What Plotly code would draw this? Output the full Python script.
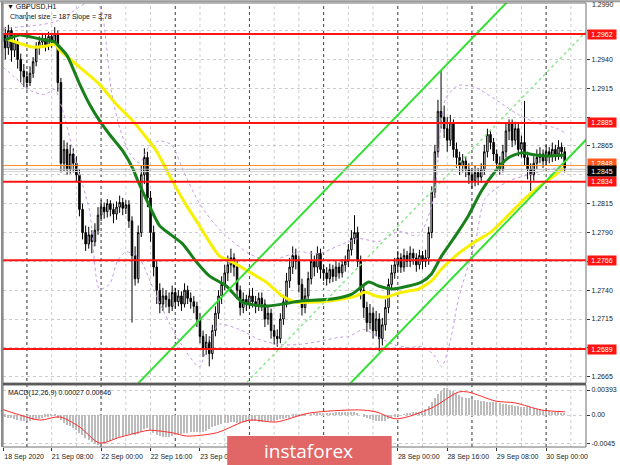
import plotly.graph_objects as go

# ---------------- data ----------------
# hourly bars, index 0 = 18 Sep 16:00, one bar per hour (weekend skipped)
first_open = 1.2955
closes = [
    1.2962, 1.2950, 1.2965, 1.2948, 1.2955, 1.2940, 1.2930, 1.2925, 1.2920, 1.2928,
    1.2938, 1.2950, 1.2955, 1.2958, 1.2952, 1.2960, 1.2956, 1.2962, 1.2920, 1.2850,
    1.2862, 1.2845, 1.2858, 1.2850, 1.2840, 1.2810, 1.2790, 1.2780, 1.2788, 1.2782,
    1.2792, 1.2805, 1.2812, 1.2808, 1.2815, 1.2810, 1.2806, 1.2812, 1.2816, 1.2811,
    1.2814, 1.2800, 1.2770, 1.2750, 1.2790, 1.2840, 1.2855, 1.2820, 1.2790, 1.2760,
    1.2740, 1.2728, 1.2735, 1.2732, 1.2726, 1.2738, 1.2730, 1.2735, 1.2728, 1.2740,
    1.2733, 1.2730, 1.2726, 1.2715, 1.2700, 1.2690, 1.2695, 1.2685, 1.2705, 1.2720,
    1.2735, 1.2745, 1.2755, 1.2762, 1.2768, 1.2760, 1.2740, 1.2725, 1.2732, 1.2728,
    1.2735, 1.2730, 1.2726, 1.2733, 1.2728, 1.2715, 1.2720, 1.2705, 1.2700, 1.2698,
    1.2715, 1.2730, 1.2748, 1.2760, 1.2770, 1.2765, 1.2745, 1.2725, 1.2735, 1.2750,
    1.2765, 1.2760, 1.2772, 1.2758, 1.2755, 1.2750, 1.2758, 1.2752, 1.2760, 1.2755,
    1.2762, 1.2765, 1.2775, 1.2785, 1.2790, 1.2765, 1.2740, 1.2725, 1.2712, 1.2720,
    1.2705, 1.2715, 1.2698, 1.2710, 1.2725, 1.2745, 1.2755, 1.2762, 1.2768, 1.2760,
    1.2770, 1.2765, 1.2772, 1.2768, 1.2762, 1.2770, 1.2765, 1.2768, 1.2790, 1.2825,
    1.2860, 1.2895, 1.2890, 1.2880, 1.2870, 1.2885, 1.2862, 1.2855, 1.2848, 1.2852,
    1.2845, 1.2840, 1.2835, 1.2842, 1.2838, 1.2845, 1.2860, 1.2875, 1.2868, 1.2858,
    1.2850, 1.2845, 1.2860, 1.2878, 1.2885, 1.2870, 1.2880, 1.2862, 1.2868, 1.2855,
    1.2845, 1.2840, 1.2850, 1.2855, 1.2858, 1.2852, 1.2860, 1.2856, 1.2862, 1.2858,
    1.2864, 1.2860, 1.2846]
highs = [
    1.2974, 1.2968, 1.2970, 1.2968, 1.2960, 1.2958, 1.2945, 1.2936, 1.2930, 1.2934,
    1.2942, 1.2955, 1.2960, 1.2963, 1.2962, 1.2964, 1.2963, 1.2968, 1.2965, 1.2924,
    1.2870, 1.2868, 1.2866, 1.2863, 1.2856, 1.2845, 1.2815, 1.2796, 1.2795, 1.2792,
    1.2798, 1.2812, 1.2818, 1.2816, 1.2819, 1.2818, 1.2815, 1.2817, 1.2822, 1.2820,
    1.2818, 1.2818, 1.2804, 1.2778, 1.2796, 1.2848, 1.2863, 1.2860, 1.2826, 1.2796,
    1.2766, 1.2746, 1.2742, 1.2740, 1.2738, 1.2744, 1.2742, 1.2740, 1.2739, 1.2746,
    1.2744, 1.2738, 1.2735, 1.2730, 1.2720, 1.2705, 1.2702, 1.2700, 1.2710, 1.2726,
    1.2740, 1.2752, 1.2762, 1.2770, 1.2776, 1.2772, 1.2765, 1.2744, 1.2738, 1.2736,
    1.2740, 1.2742, 1.2735, 1.2738, 1.2738, 1.2732, 1.2726, 1.2724, 1.2710, 1.2706,
    1.2720, 1.2736, 1.2755, 1.2768, 1.2778, 1.2776, 1.2770, 1.2750, 1.2742, 1.2756,
    1.2774, 1.2770, 1.2778, 1.2776, 1.2762, 1.2760, 1.2763, 1.2762, 1.2765, 1.2764,
    1.2767, 1.2770, 1.2780, 1.2792, 1.2805, 1.2795, 1.2770, 1.2745, 1.2730, 1.2728,
    1.2725, 1.2722, 1.2720, 1.2716, 1.2732, 1.2750, 1.2762, 1.2768, 1.2774, 1.2772,
    1.2776, 1.2774, 1.2778, 1.2776, 1.2772, 1.2775, 1.2774, 1.2775, 1.2795, 1.2830,
    1.2866, 1.2905, 1.2931, 1.2900, 1.2890, 1.2892, 1.2888, 1.2868, 1.2860, 1.2858,
    1.2856, 1.2850, 1.2846, 1.2848, 1.2846, 1.2850, 1.2866, 1.2880, 1.2879, 1.2872,
    1.2862, 1.2856, 1.2866, 1.2884, 1.2888, 1.2888, 1.2886, 1.2884, 1.2874, 1.2904,
    1.2860, 1.2850, 1.2856, 1.2862, 1.2864, 1.2862, 1.2866, 1.2864, 1.2868, 1.2866,
    1.2870, 1.2868, 1.2864]
lows = [
    1.2945, 1.2940, 1.2944, 1.2938, 1.2942, 1.2932, 1.2920, 1.2916, 1.2914, 1.2917,
    1.2924, 1.2934, 1.2944, 1.2950, 1.2947, 1.2948, 1.2950, 1.2952, 1.2912, 1.2842,
    1.2843, 1.2840, 1.2841, 1.2842, 1.2834, 1.2804, 1.2784, 1.2774, 1.2776, 1.2772,
    1.2778, 1.2788, 1.2800, 1.2802, 1.2803, 1.2804, 1.2798, 1.2801, 1.2807, 1.2805,
    1.2806, 1.2794, 1.2712, 1.2744, 1.2746, 1.2786, 1.2832, 1.2812, 1.2782, 1.2752,
    1.2728, 1.2720, 1.2722, 1.2725, 1.2720, 1.2722, 1.2724, 1.2726, 1.2722, 1.2725,
    1.2728, 1.2724, 1.2720, 1.2708, 1.2694, 1.2682, 1.2684, 1.2674, 1.2680, 1.2700,
    1.2715, 1.2728, 1.2740, 1.2748, 1.2755, 1.2752, 1.2732, 1.2718, 1.2720, 1.2722,
    1.2724, 1.2725, 1.2720, 1.2722, 1.2722, 1.2708, 1.2710, 1.2698, 1.2693, 1.2691,
    1.2694, 1.2710, 1.2725, 1.2742, 1.2754, 1.2758, 1.2738, 1.2718, 1.2720, 1.2730,
    1.2745, 1.2752, 1.2755, 1.2750, 1.2748, 1.2744, 1.2746, 1.2747, 1.2748, 1.2750,
    1.2751, 1.2756, 1.2760, 1.2770, 1.2780, 1.2760, 1.2732, 1.2716, 1.2704, 1.2706,
    1.2698, 1.2700, 1.2687, 1.2692, 1.2705, 1.2720, 1.2740, 1.2750, 1.2756, 1.2755,
    1.2756, 1.2760, 1.2760, 1.2762, 1.2756, 1.2758, 1.2758, 1.2760, 1.2762, 1.2785,
    1.2820, 1.2855, 1.2880, 1.2872, 1.2860, 1.2865, 1.2855, 1.2846, 1.2840, 1.2842,
    1.2838, 1.2832, 1.2828, 1.2830, 1.2831, 1.2833, 1.2840, 1.2855, 1.2862, 1.2852,
    1.2844, 1.2840, 1.2842, 1.2855, 1.2870, 1.2864, 1.2866, 1.2856, 1.2855, 1.2848,
    1.2836, 1.2826, 1.2835, 1.2845, 1.2850, 1.2846, 1.2848, 1.2850, 1.2851, 1.2852,
    1.2853, 1.2854, 1.2842]

# moving averages (bar index, price)
ma_green_bar = [0.9, 5.7, 12.2, 17.0, 18.0, 20.9, 25.1, 28.3, 31.5, 34.8, 39.0, 42.2, 43.8, 47.7,
                50.9, 54.1, 58.3, 62.8, 67.0, 72.5, 77.7, 85.4, 90.6, 96.0, 106.7, 113.1, 118.6,
                121.8, 126.0, 131.5, 135.7, 138.9, 142.2, 146.7, 150.9, 155.0, 159.6, 163.7,
                167.9, 172.5, 176.6, 182.0]
ma_green_val = [1.29568, 1.29612, 1.29577, 1.29551, 1.29524, 1.29437, 1.29184, 1.29009, 1.28869,
                1.28747, 1.28607, 1.28458, 1.28354, 1.28126, 1.27960, 1.27890, 1.27803, 1.27646,
                1.27524, 1.27436, 1.27296, 1.27262, 1.27279, 1.27305, 1.27323, 1.27366, 1.27471,
                1.27436, 1.27410, 1.27436, 1.27471, 1.27541, 1.27698, 1.27873, 1.28048, 1.28257,
                1.28432, 1.28546, 1.28590, 1.28572, 1.28563, 1.28572]
ma_yellow_bar = [1.5, 9.9, 14.4, 17.0, 18.6, 25.1, 31.5, 37.0, 42.2, 46.7, 49.9, 55.1, 59.6, 63.8,
                 67.0, 70.2, 74.4, 79.9, 85.4, 90.6, 95.1, 99.3, 104.7, 109.9, 114.4, 117.6, 120.9,
                 124.1, 128.3, 131.5, 134.7, 138.9, 142.2, 146.7, 153.1, 158.3, 163.7, 169.2,
                 174.4, 178.9, 181.5]
ma_yellow_val = [1.29577, 1.29507, 1.29516, 1.29533, 1.29481, 1.29332, 1.29184, 1.29009, 1.28869,
                 1.28721, 1.28607, 1.28345, 1.28135, 1.27960, 1.27821, 1.27698, 1.27646, 1.27559,
                 1.27471, 1.27349, 1.27296, 1.27296, 1.27305, 1.27323, 1.27349, 1.27384, 1.27349,
                 1.27340, 1.27375, 1.27393, 1.27410, 1.27480, 1.27585, 1.27698, 1.27821, 1.27908,
                 1.28048, 1.28196, 1.28310, 1.28397, 1.28458]

# envelope (dotted violet) bands
band_up_bar = [0.26, 5.7, 12.2, 17.0, 20.3, 25.1, 29.9, 32.2, 35.4, 38.0, 41.2, 44.4, 47.7, 50.9,
               54.8, 58.9, 63.8, 68.6, 73.5, 79.9, 86.4, 91.2, 96.0, 102.5, 108.9, 115.4, 121.8,
               128.3, 134.7, 139.6, 143.4, 147.6, 153.1, 159.6, 167.0, 174.4, 178.9, 182.1]
band_up_val = [1.29664, 1.29682, 1.29699, 1.29725, 1.29769, 1.29856, 1.29926, 1.29813, 1.29114,
               1.28808, 1.28589, 1.28502, 1.28651, 1.28694, 1.28659, 1.28415, 1.28153, 1.27978,
               1.27847, 1.27716, 1.27655, 1.27690, 1.27733, 1.27716, 1.27786, 1.27847, 1.27821,
               1.27908, 1.27873, 1.28196, 1.29053, 1.29175, 1.29157, 1.29053, 1.28921, 1.28834,
               1.28808, 1.28764]
band_lo_bar = [0.26, 4.1, 9.0, 13.8, 17.0, 19.3, 23.5, 28.3, 31.5, 34.8, 37.3, 40.2, 44.4, 49.9,
               56.4, 63.8, 67.0, 70.2, 76.7, 83.1, 89.6, 96.0, 102.5, 108.9, 112.2, 117.0, 121.8,
               126.7, 131.5, 135.7, 139.6, 142.2, 145.1, 147.6, 153.1, 156.3, 163.8, 172.5, 178.9,
               182.1]
band_lo_val = [1.29332, 1.29245, 1.29131, 1.29096, 1.29140, 1.28983, 1.28546, 1.28083, 1.27410,
               1.27454, 1.27655, 1.27733, 1.27672, 1.27349, 1.26999, 1.26737, 1.26973, 1.27104,
               1.27060, 1.26973, 1.26929, 1.26929, 1.26956, 1.26991, 1.26999, 1.27060, 1.26991,
               1.26929, 1.26903, 1.26912, 1.26842, 1.26737, 1.26973, 1.27323, 1.27821, 1.28196,
               1.28345, 1.28415, 1.28458, 1.28458]

# regression channel (two anchor bars)
channel_bar = [40, 190]
channel_upper = [1.26482, 1.30634]
channel_middle = [1.25518, 1.29670]
channel_lower = [1.24582, 1.28734]

# horizontal levels
levels = [1.2962, 1.2885, 1.2834, 1.2766, 1.2689]
ask_price = 1.2848
bid_price = 1.2845

# MACD (main line in units of 0.0001, one per bar) and signal line
macd_main_e4 = [
    -3, -3, -4,
    -5, -6, -8, -9, -10, -10, -9, -8, -7, -6,
    -4, -3, -3, -2, -2, -4,
    -8, -12, -15, -18, -21, -24, -28, -32, -36, -40, -43, -45, -47,
    -46, -45, -43, -41, -39, -37, -35, -33, -31, -30, -30, -32, -30, -26,
    -22, -21, -24,
    -28, -31, -33, -35, -35, -34, -33, -32,
    -31, -30, -29, -28, -27, -26, -26, -27, -27, -25, -22, -19, -17, -15, -14, -13, -12,
    -11, -11, -12, -12, -11, -11, -10, -10, -10, -11, -11, -10, -10, -10, -9, -8, -7, -6,
    -5, -4, -3, -3, -2, -2, -1, 0,
    1, 2, 3, 3, 3, 3, 3, 3, 4, 4, 4, 5, 5, 5, 5, 3,
    0, -3, -5, -7, -8, -9, -10, -10, -9, -7, -5, -3,
    -1, 0, 1, 2, 3, 4, 4, 5,
    7, 10, 14, 20, 27, 33, 38, 42, 42, 40,
    37, 34, 31, 29, 27, 26, 25, 24,
    23, 22, 22, 21, 21, 20, 20, 19, 18, 17, 16,
    15, 14, 14, 13, 13, 12, 12, 11, 10, 9, 8, 7,
    6, 5, 5, 4, 3, 2.7]
signal_bar = [0, 5.7, 12.2, 18.6, 25.1, 31.5, 38.0, 44.4, 47.7, 55.1, 59.6, 69.3, 79.9, 88.6,
              99.3, 115.4, 120.9, 127.6, 138.9, 147.6, 150.9, 159.6, 166.0, 174.4, 182.1]
signal_val = [0.0009, 0.0000, -0.0008, -0.0003, -0.0019, -0.0044, -0.0035, -0.0027, -0.0024,
              -0.0028, -0.0033, -0.0028, -0.0008, -0.0011, 0.0003, 0.0008, 0.0005, -0.0006,
              0.0011, 0.0036, 0.0036, 0.0022, 0.0019, 0.0008, 0.0005]

# axes
price_ticks = [1.2965, 1.2940, 1.2915, 1.2890, 1.2865, 1.2840, 1.2815, 1.2790, 1.2765,
               1.2740, 1.2715, 1.2690, 1.2665]
price_tick_text = ["", "1.2940", "1.2915", "", "1.2865", "", "1.2815", "1.2790", "",
                   "1.2740", "1.2715", "", "1.2665"]
top_price_label = "1.2990"
macd_ticks = [0.00393, 0.0, -0.0045]
macd_tick_text = ["0.00393", "0.00", "-0.0045"]
# labels 24 Sep 00:00 .. 25 Sep 08:00 sit under the watermark and are not visible
time_label_bar = [0.3, 16, 32, 48, 64, 128, 144, 160, 176]
time_label_text = ["18 Sep 2020", "21 Sep 08:00", "22 Sep 00:00", "22 Sep 16:00",
                   "23 Sep 08:00", "28 Sep 00:00", "28 Sep 16:00", "29 Sep 08:00",
                   "30 Sep 00:00"]
grid_bars = list(range(8, 189, 8))
day_bars = [8, 32, 56, 80, 104, 128, 152, 176]

# ---------------- figure ----------------
opens = [first_open] + closes[:-1]
bars = list(range(len(closes)))
macd_main = [v * 1e-4 for v in macd_main_e4]

FONT = "Liberation Sans"
fig = go.Figure()

band_style = dict(color="#c79ae6", width=1, dash="dot", shape="spline", smoothing=0.7)
fig.add_trace(go.Scatter(x=band_up_bar, y=band_up_val, mode="lines", line=band_style,
                         xaxis="x", yaxis="y", hoverinfo="skip"))
fig.add_trace(go.Scatter(x=band_lo_bar, y=band_lo_val, mode="lines", line=band_style,
                         xaxis="x", yaxis="y", hoverinfo="skip"))

fig.add_trace(go.Candlestick(
    x=bars, open=opens, high=highs, low=lows, close=closes,
    increasing=dict(line=dict(color="#000000", width=1), fillcolor="#ffffff"),
    decreasing=dict(line=dict(color="#000000", width=1), fillcolor="#000000"),
    whiskerwidth=0, xaxis="x", yaxis="y", hoverinfo="skip"))

fig.add_trace(go.Scatter(x=ma_yellow_bar, y=ma_yellow_val, mode="lines",
                         line=dict(color="#f7f000", width=3, shape="spline", smoothing=0.6),
                         xaxis="x", yaxis="y", hoverinfo="skip"))
fig.add_trace(go.Scatter(x=ma_green_bar, y=ma_green_val, mode="lines",
                         line=dict(color="#17801a", width=3, shape="spline", smoothing=0.6),
                         xaxis="x", yaxis="y", hoverinfo="skip"))

fig.add_trace(go.Scatter(x=channel_bar, y=channel_middle, mode="lines",
                         line=dict(color="#8de88d", width=1.5, dash="dot"),
                         xaxis="x", yaxis="y", hoverinfo="skip"))
for ch in (channel_upper, channel_lower):
    fig.add_trace(go.Scatter(x=channel_bar, y=ch, mode="lines",
                             line=dict(color="#33e033", width=2),
                             xaxis="x", yaxis="y", hoverinfo="skip"))

# MACD pane
fig.add_trace(go.Bar(x=bars, y=macd_main, marker=dict(color="#bcbcbc", line=dict(width=0)),
                     width=0.45, xaxis="x2", yaxis="y2", hoverinfo="skip"))
fig.add_trace(go.Scatter(x=signal_bar, y=signal_val, mode="lines",
                         line=dict(color="#ff2a2a", width=1, shape="spline", smoothing=0.8),
                         xaxis="x2", yaxis="y2", hoverinfo="skip"))

shapes = []
for b in grid_bars:
    shapes.append(dict(type="line", xref="x", yref="paper", x0=b, x1=b, y0=0, y1=1,
                       line=dict(color="#cccccc", width=1, dash="dot"), layer="below"))
for b in day_bars:
    shapes.append(dict(type="line", xref="x", yref="paper", x0=b, x1=b, y0=0, y1=1,
                       line=dict(color="#4a4a4a", width=1, dash="dot"), layer="below"))
for lv in levels:
    shapes.append(dict(type="line", xref="paper", yref="y", x0=0, x1=1, y0=lv, y1=lv,
                       line=dict(color="#ff1414", width=2)))
shapes.append(dict(type="line", xref="paper", yref="y", x0=0, x1=1, y0=ask_price, y1=ask_price,
                   line=dict(color="#ff8a2a", width=1)))
shapes.append(dict(type="line", xref="paper", yref="y", x0=0, x1=1, y0=bid_price - 0.00002,
                   y1=bid_price - 0.00002, line=dict(color="#b8b8b8", width=1)))
shapes.append(dict(type="line", xref="paper", yref="y", x0=0, x1=1, y0=bid_price - 0.00022,
                   y1=bid_price - 0.00022, line=dict(color="#d4d4d4", width=1)))

MAIN_BOTTOM = 0.144
MACD_TOP = 0.1396
# pane frames
shapes.append(dict(type="rect", xref="paper", yref="paper", x0=0, x1=1, y0=MAIN_BOTTOM, y1=1,
                   line=dict(color="#707070", width=1)))
shapes.append(dict(type="rect", xref="paper", yref="paper", x0=0, x1=1, y0=0, y1=MACD_TOP,
                   line=dict(color="#707070", width=1)))
shapes.append(dict(type="rect", xref="paper", yref="paper", x0=0, x1=1, y0=MACD_TOP,
                   y1=MAIN_BOTTOM, fillcolor="#5a5a5a", line=dict(width=0)))
shapes.append(dict(type="line", xref="paper", yref="paper", x0=-0.0017, x1=-0.0017, y0=0,
                   y1=1.005, line=dict(color="#8c8c8c", width=2)))
shapes.append(dict(type="line", xref="paper", yref="paper", x0=-0.005, x1=1.06, y0=1.004,
                   y1=1.004, line=dict(color="#9a9a9a", width=2)))
# watermark box
shapes.append(dict(type="rect", xref="paper", yref="paper", x0=0.3846, x1=0.6667,
                   y0=-0.045, y1=0.0248, fillcolor="#e16666", line=dict(width=0)))

annotations = []
annotations.append(dict(xref="paper", yref="paper", x=0.004, y=0.991, xanchor="left",
                        yanchor="middle", showarrow=False, text="▼ GBPUSD,H1",
                        font=dict(family=FONT, size=7, color="#111111")))
annotations.append(dict(xref="paper", yref="paper", x=0.0085, y=0.9685, xanchor="left",
                        yanchor="middle", showarrow=False,
                        text="Channel size = 187 Slope = 3.78",
                        font=dict(family=FONT, size=7, color="#111111")))
annotations.append(dict(xref="paper", yref="paper", x=0.005, y=0.1225, xanchor="left",
                        yanchor="middle", showarrow=False,
                        text="MACD(12,26,9) 0.00027 0.00046",
                        font=dict(family=FONT, size=7, color="#111111")))
annotations.append(dict(xref="paper", yref="paper", x=1, y=0.9955, xanchor="left",
                        yanchor="middle", xshift=4, showarrow=False, text=top_price_label,
                        font=dict(family=FONT, size=7, color="#222222")))
for lv in levels:
    annotations.append(dict(xref="paper", yref="y", x=1, y=lv, xanchor="left", yanchor="middle",
                            xshift=1, showarrow=False, text="%.4f" % lv, bgcolor="#ff1414",
                            width=28, height=9, borderpad=0,
                            font=dict(family=FONT, size=7, color="#ffffff")))
annotations.append(dict(xref="paper", yref="y", x=1, y=ask_price + 0.00015, xanchor="left",
                        yanchor="middle", xshift=1, showarrow=False, text="%.4f" % ask_price,
                        bgcolor="#ff5a1e", width=28, height=9, borderpad=0,
                        font=dict(family=FONT, size=7, color="#ffffff")))
annotations.append(dict(xref="paper", yref="y", x=1, y=bid_price, xanchor="left",
                        yanchor="middle", xshift=1, yshift=-2, showarrow=False,
                        text="%.4f" % bid_price, bgcolor="#000000", width=28, height=10,
                        borderpad=0, font=dict(family=FONT, size=7, color="#ffffff")))
annotations.append(dict(xref="paper", yref="paper", x=0.5248, y=-0.009, xanchor="center",
                        yanchor="middle", showarrow=False, text="instaforex",
                        font=dict(family="Open Sans", size=19, color="#ffffff")))

axis_font = dict(family=FONT, size=7, color="#222222")
xr = [0.26, 188.9]
fig.update_layout(
    width=620, height=465,
    margin=dict(l=3, r=32, t=3, b=18),
    paper_bgcolor="#ffffff", plot_bgcolor="#ffffff",
    showlegend=False, bargap=0,
    xaxis=dict(domain=[0, 1], range=xr, anchor="y", showticklabels=False, showgrid=False,
               zeroline=False, ticks="", rangeslider=dict(visible=False), fixedrange=True),
    yaxis=dict(domain=[MAIN_BOTTOM, 1], range=[1.26595, 1.29889], anchor="x", side="right",
               tickmode="array", tickvals=price_ticks, ticktext=price_tick_text,
               tickfont=axis_font, ticks="outside", ticklen=3, tickcolor="#333333",
               showgrid=True, gridcolor="#cccccc", griddash="dot", gridwidth=1,
               zeroline=False, fixedrange=True),
    xaxis2=dict(domain=[0, 1], range=xr, anchor="y2", tickmode="array",
                tickvals=time_label_bar, ticktext=time_label_text, tickfont=axis_font,
                ticks="outside", ticklen=3, tickcolor="#333333", ticklabelshift=21,
                showgrid=False, zeroline=False, fixedrange=True),
    yaxis2=dict(domain=[0, MACD_TOP], range=[-0.00503, 0.004716], anchor="x2", side="right",
                tickmode="array", tickvals=macd_ticks, ticktext=macd_tick_text,
                tickfont=axis_font, ticks="outside", ticklen=3, tickcolor="#333333",
                showgrid=True, gridcolor="#cccccc", griddash="dot", zeroline=False,
                fixedrange=True),
    shapes=shapes,
    annotations=annotations,
)

fig.write_html("out.html", config={"displayModeBar": False},
               post_script="document.body.style.margin='0px';document.body.style.padding='0px';")
